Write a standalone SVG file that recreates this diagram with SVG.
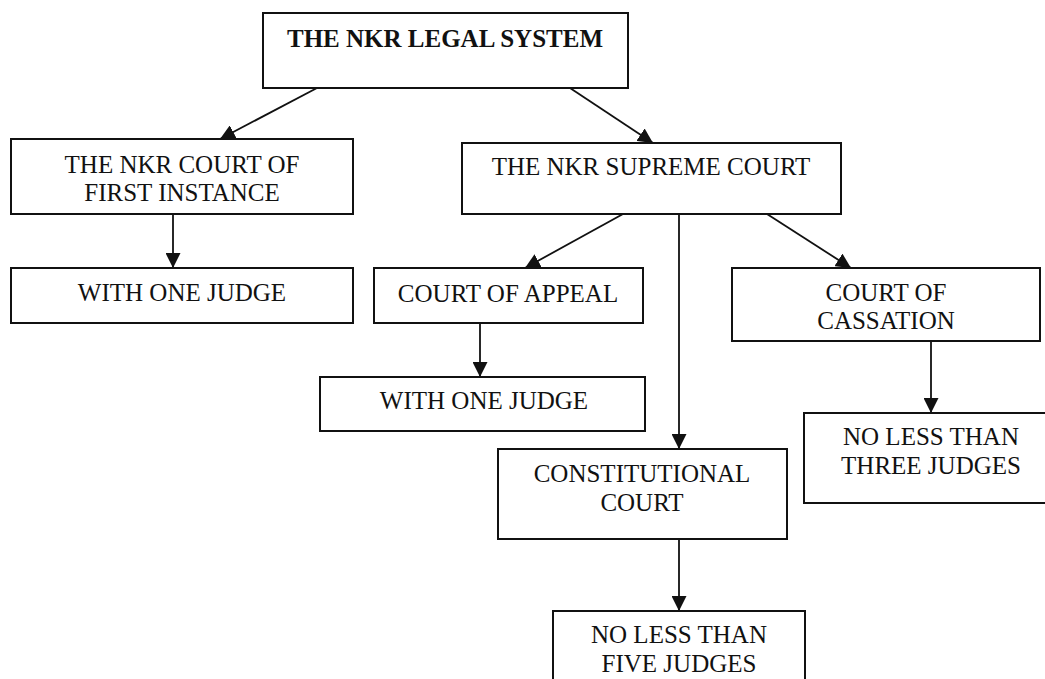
<svg xmlns="http://www.w3.org/2000/svg" width="1045" height="679" viewBox="0 0 1045 679">
<style>
.box{fill:#fff;stroke:#111;stroke-width:2}
.t{font-family:"Liberation Serif","Times New Roman",serif;font-size:25px;fill:#111;text-anchor:middle}
.b{font-weight:bold}
.c{stroke:#111;stroke-width:1.8;fill:none;marker-end:url(#ah)}
</style>
<defs>
<marker id="ah" markerUnits="userSpaceOnUse" markerWidth="15" markerHeight="15" refX="15" refY="7.5" orient="auto" viewBox="0 0 15 15">
<path d="M0,0 L15,7.5 L0,15 z" fill="#111"/>
</marker>
</defs>
<rect width="1045" height="679" fill="#fff"/>
<g id="connectors">
<line class="c" x1="317" y1="88" x2="220" y2="139"/>
<line class="c" x1="570" y1="88" x2="653" y2="143"/>
<line class="c" x1="173" y1="214" x2="173" y2="268"/>
<line class="c" x1="623" y1="214" x2="525" y2="268"/>
<line class="c" x1="767" y1="214" x2="851" y2="268"/>
<line class="c" x1="480" y1="323" x2="480" y2="377"/>
<line class="c" x1="679" y1="214" x2="679" y2="449"/>
<line class="c" x1="931" y1="341" x2="931" y2="413"/>
<line class="c" x1="679" y1="539" x2="679" y2="611"/>
</g>
<g id="n-root">
<rect class="box" x="263" y="13" width="365" height="75"/>
<text class="t b" x="445" y="47">THE NKR LEGAL SYSTEM</text>
</g>
<g id="n-first">
<rect class="box" x="11" y="139" width="342" height="75"/>
<text class="t" x="182" y="173">THE NKR COURT OF</text>
<text class="t" x="182" y="201">FIRST INSTANCE</text>
</g>
<g id="n-first-judge">
<rect class="box" x="11" y="268" width="342" height="55"/>
<text class="t" x="182" y="301">WITH ONE JUDGE</text>
</g>
<g id="n-supreme">
<rect class="box" x="462" y="143" width="379" height="71"/>
<text class="t" x="651" y="175">THE NKR SUPREME COURT</text>
</g>
<g id="n-appeal">
<rect class="box" x="374" y="268" width="269" height="55"/>
<text class="t" x="508" y="302">COURT OF APPEAL</text>
</g>
<g id="n-appeal-judge">
<rect class="box" x="320" y="377" width="325" height="54"/>
<text class="t" x="484" y="409">WITH ONE JUDGE</text>
</g>
<g id="n-cassation">
<rect class="box" x="732" y="268" width="308" height="73"/>
<text class="t" x="886" y="301">COURT OF</text>
<text class="t" x="886" y="329">CASSATION</text>
</g>
<g id="n-three">
<rect class="box" x="804" y="413" width="254" height="90"/>
<text class="t" x="931" y="445">NO LESS THAN</text>
<text class="t" x="931" y="474">THREE JUDGES</text>
</g>
<g id="n-constitutional">
<rect class="box" x="498" y="449" width="289" height="90"/>
<text class="t" x="642" y="482">CONSTITUTIONAL</text>
<text class="t" x="642" y="511">COURT</text>
</g>
<g id="n-five">
<rect class="box" x="553" y="611" width="252" height="90"/>
<text class="t" x="679" y="643">NO LESS THAN</text>
<text class="t" x="679" y="672">FIVE JUDGES</text>
</g>
</svg>
